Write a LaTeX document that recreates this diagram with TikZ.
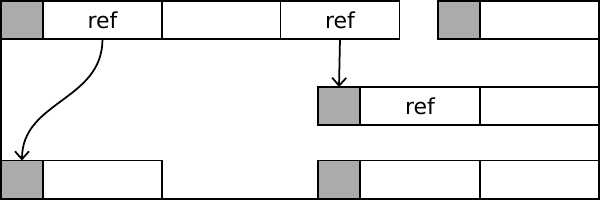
\documentclass[tikz,border=0pt]{standalone}
\usepackage{fontspec}
\setmainfont{DejaVu Sans}
\usetikzlibrary{arrows.meta,positioning}

\begin{document}
\begin{tikzpicture}[
  x=0.02cm,y=-0.02cm,
  cell/.style={draw,line width=1pt,minimum height=0.76cm,inner sep=0pt,outer sep=0pt,
    font=\fontsize{12.5}{15}\selectfont},
  tag/.style={cell,fill=black!33,minimum width=0.84cm},
  field/.style={cell,minimum width=2.38cm},
  ptr/.style={line width=1pt,-{Straight Barb[length=4.5pt,width=8pt]}}
]
  \useasboundingbox (0,0) rectangle (600,200);

  % Outer frame
  \draw[line width=1pt] (1,0) -- (1,199) -- (599,199) -- (599,0);

  % Top row
  \node[tag]   (g1) at (22,20)    {};
  \node[field] (r1) at (102.5,20) {ref};
  \node[field] (b1) at (221,20)   {};
  \node[field] (r2) at (340,20)   {ref};
  \node[tag]   (g2) at (459,20)   {};
  \node[field] (b2) at (539.5,20) {};

  % Middle row
  \node[tag]   (g3) at (339,106)   {};
  \node[field] (r3) at (420,106)   {ref};
  \node[field] (b3) at (539.5,106) {};

  % Bottom row
  \node[tag]   (g4) at (22,179.5)    {};
  \node[field] (b4) at (102.5,179.5) {};
  \node[tag]   (g5) at (339,179.5)   {};
  \node[field] (b5) at (420,179.5)   {};
  \node[field] (b6) at (539.5,179.5) {};

  % Pointers
  \draw[ptr] (r1.south) .. controls +(0,62) and +(0,-60) .. (g4.north);
  \draw[ptr] (r2.south) -- (g3.north);
\end{tikzpicture}
\end{document}
